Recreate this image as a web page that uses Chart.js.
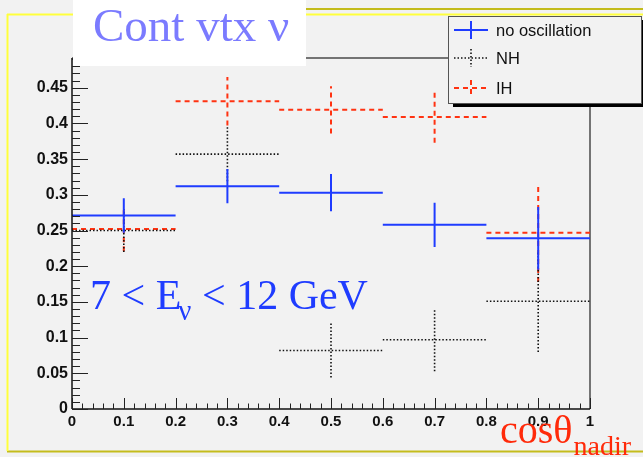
<!DOCTYPE html>
<html lang="en">
  <head>
    <meta charset="UTF-8" />
    <title>Cont vtx</title>
    <script src="https://cdn.jsdelivr.net/npm/chart.js"></script>
    <style>
      body {
        margin: 0;
        background: #f2f2f2;
      }
      canvas {
        display: block;
      }
    </style>
  </head>
  <body>
    <canvas id="cosChart" width="643" height="457"></canvas>
    <script>
      // cos(theta_nadir) bins, 7 < E < 12 GeV
      const binCenters = [0.1, 0.3, 0.5, 0.7, 0.9];
      const binHalfWidth = 0.1;

      const seriesNames = ["no oscillation", "NH", "IH"];
      const noOscValues = [0.271, 0.312, 0.303, 0.258, 0.239];
      const noOscErrors = [0.024, 0.024, 0.026, 0.031, 0.044];
      const nhValues = [0.25, 0.357, 0.082, 0.097, 0.151];
      const nhErrors = [0.03, 0.038, 0.038, 0.044, 0.071];
      const ihValues = [0.252, 0.431, 0.419, 0.409, 0.247];
      const ihErrors = [0.031, 0.034, 0.033, 0.036, 0.069];

      const xTicks = [0, 0.1, 0.2, 0.3, 0.4, 0.5, 0.6, 0.7, 0.8, 0.9, 1];
      const yTicks = [0, 0.05, 0.1, 0.15, 0.2, 0.25, 0.3, 0.35, 0.4, 0.45];

      // horizontal bin bar + vertical error bar per bin, null breaks the line
      function crosses(values, errors) {
        const pts = [];
        binCenters.forEach((c, i) => {
          pts.push({ x: c - binHalfWidth, y: values[i] });
          pts.push({ x: c + binHalfWidth, y: values[i] });
          pts.push({ x: c, y: null });
          pts.push({ x: c, y: values[i] - errors[i] });
          pts.push({ x: c, y: values[i] + errors[i] });
          pts.push({ x: c, y: null });
        });
        return pts;
      }

      const styles = [
        { color: "#1f3cff", width: 2, dash: [] },
        { color: "#111111", width: 1.6, dash: [1.5, 2] },
        { color: "#ff3312", width: 2, dash: [5, 4] },
      ];

      const datasets = [
        { label: seriesNames[2], data: crosses(ihValues, ihErrors), st: styles[2], order: 3 },
        { label: seriesNames[1], data: crosses(nhValues, nhErrors), st: styles[1], order: 2 },
        { label: seriesNames[0], data: crosses(noOscValues, noOscErrors), st: styles[0], order: 1 },
      ].map((d) => ({
        label: d.label,
        data: d.data,
        order: d.order,
        showLine: true,
        spanGaps: false,
        pointRadius: 0,
        borderColor: d.st.color,
        borderWidth: d.st.width,
        borderDash: d.st.dash,
        borderCapStyle: "butt",
      }));

      function line(ctx, x1, y1, x2, y2) {
        ctx.beginPath();
        ctx.moveTo(x1, y1);
        ctx.lineTo(x2, y2);
        ctx.stroke();
      }

      const rootStyle = {
        id: "rootStyle",
        beforeDraw(chart) {
          const ctx = chart.ctx;
          const a = chart.chartArea;
          ctx.save();
          ctx.fillStyle = "#f2f2f2";
          ctx.fillRect(0, 0, chart.width, chart.height);
          // canvas border
          ctx.lineWidth = 2;
          ctx.strokeStyle = "#c4bc1c";
          line(ctx, 305, 9, 643, 9);
          line(ctx, 7, 451.5, 643, 451.5);
          ctx.strokeStyle = "#ffff3c";
          line(ctx, 7, 14.5, 643, 14.5);
          line(ctx, 7.5, 14, 7.5, 451);
          // frame
          ctx.lineWidth = 1.5;
          ctx.strokeStyle = "#4a4a4a";
          line(ctx, a.left, a.top, a.right, a.top);
          line(ctx, a.right, a.top, a.right, a.bottom);
          ctx.restore();
        },
        afterDatasetsDraw(chart) {
          const ctx = chart.ctx;
          const a = chart.chartArea;
          const xs = chart.scales.x;
          const ys = chart.scales.y;
          ctx.save();
          ctx.strokeStyle = "#111";
          ctx.lineWidth = 1.5;
          line(ctx, a.left, a.top, a.left, a.bottom);
          line(ctx, a.left, a.bottom, a.right, a.bottom);
          ctx.lineWidth = 1;
          ctx.strokeStyle = "#222";
          // x ticks: 0.1 major, 0.02 minor
          for (let k = 0; k <= 50; k++) {
            const px = Math.round(xs.getPixelForValue(k * 0.02)) + 0.5;
            const len = k % 5 === 0 ? 11 : 5.5;
            line(ctx, px, a.bottom, px, a.bottom - len);
          }
          // y ticks: 0.05 major, 0.01 minor
          for (let k = 0; k <= 49; k++) {
            const py = Math.round(ys.getPixelForValue(k * 0.01)) + 0.5;
            const len = k % 5 === 0 ? 16 : 8;
            line(ctx, a.left, py, a.left + len, py);
          }
          ctx.restore();
        },
        afterDraw(chart) {
          const ctx = chart.ctx;
          ctx.save();
          // title pad
          ctx.fillStyle = "#ffffff";
          ctx.fillRect(73, 0, 233, 66);
          ctx.fillStyle = "#7b7bff";
          ctx.font = "47px 'Liberation Serif'";
          ctx.textBaseline = "alphabetic";
          ctx.fillText("Cont vtx \u03bd", 93, 41);

          // legend
          ctx.fillStyle = "#000";
          ctx.fillRect(453, 103, 190, 4);
          ctx.fillRect(641, 20, 2, 87);
          ctx.fillStyle = "#f2f2f2";
          ctx.fillRect(448, 16, 193, 87);
          ctx.strokeStyle = "#555";
          ctx.lineWidth = 1;
          ctx.strokeRect(448.5, 16.5, 193, 87);
          const rows = [30, 58, 88];
          const vHalf = [9, 9, 8];
          ctx.font = "16.5px 'Liberation Sans'";
          rows.forEach((y, i) => {
            const st = styles[i];
            ctx.strokeStyle = st.color;
            ctx.lineWidth = st.width;
            ctx.setLineDash(st.dash);
            line(ctx, 454, y, 488, y);
            line(ctx, 471, y - vHalf[i], 471, y + vHalf[i]);
            ctx.setLineDash([]);
            ctx.fillStyle = "#111";
            ctx.textBaseline = "middle";
            ctx.fillText(seriesNames[i], 496, y + 1);
          });

          // energy range label
          ctx.textBaseline = "alphabetic";
          ctx.fillStyle = "#1f3cff";
          let x = 90;
          ctx.font = "42px 'Liberation Serif'";
          ctx.fillText("7 < E", x, 309);
          x += ctx.measureText("7 < E").width - 3;
          ctx.font = "29px 'Liberation Serif'";
          ctx.fillText("\u03bd", x, 320);
          x += ctx.measureText("\u03bd").width;
          ctx.font = "42px 'Liberation Serif'";
          ctx.fillText(" < 12 GeV", x, 309);

          // axis title
          ctx.fillStyle = "#ff2a0a";
          ctx.font = "40px 'Liberation Serif'";
          ctx.fillText("cos\u03b8", 500, 443);
          const w = ctx.measureText("cos\u03b8").width;
          ctx.font = "28px 'Liberation Serif'";
          ctx.fillText("nadir", 500 + w + 1, 455);
          ctx.restore();
        },
      };

      new Chart(document.getElementById("cosChart"), {
        type: "scatter",
        data: { datasets },
        options: {
          responsive: false,
          animation: false,
          layout: { padding: { left: 0, top: 58, right: 53, bottom: 0 } },
          plugins: { legend: { display: false }, tooltip: { enabled: false } },
          scales: {
            x: {
              type: "linear",
              min: 0,
              max: 1,
              afterFit: (s) => (s.height = 48),
              afterBuildTicks: (s) => (s.ticks = xTicks.map((v) => ({ value: v }))),
              grid: { display: false, drawTicks: false },
              border: { display: false },
              ticks: {
                padding: 4,
                color: "#111",
                font: { family: "'Liberation Sans'", size: 15, weight: "bold" },
                maxRotation: 0,
                callback: (v) => String(+v.toFixed(2)),
              },
            },
            y: {
              type: "linear",
              min: 0,
              max: 0.4916,
              afterFit: (s) => (s.width = 72),
              afterBuildTicks: (s) => (s.ticks = yTicks.map((v) => ({ value: v }))),
              grid: { display: false, drawTicks: false },
              border: { display: false },
              ticks: {
                padding: 4,
                color: "#111",
                font: { family: "'Liberation Sans'", size: 16, weight: "bold" },
                callback: (v) => String(+v.toFixed(2)),
              },
            },
          },
        },
        plugins: [rootStyle],
      });
    </script>
  </body>
</html>
